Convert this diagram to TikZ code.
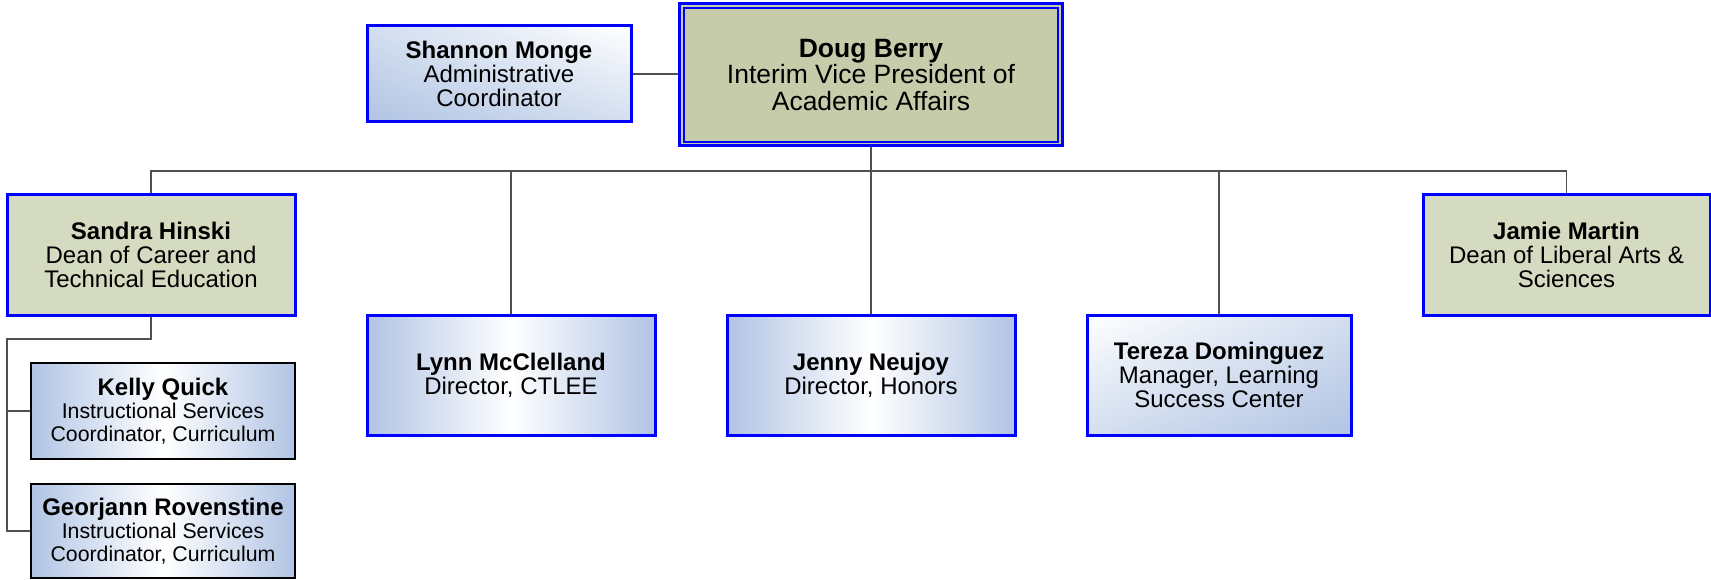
\documentclass[tikz,border=0pt]{standalone}
\usepackage{fontspec}
\setmainfont{Liberation Sans}
\usetikzlibrary{shadings}
\definecolor{gblue}{HTML}{B1C4E4}
\definecolor{gmid}{HTML}{D3DEEF}
\definecolor{dougfill}{HTML}{C6CCA9}
\definecolor{deanfill}{HTML}{D5DBC1}
\definecolor{bord}{HTML}{0000FF}
\definecolor{connc}{HTML}{505050}
\tikzset{
  base/.style={rectangle, align=center, inner sep=0pt, font=\fontsize{24}{24}\selectfont},
  bluebox/.style={base, draw=bord, line width=3pt},
  hgrad/.style={left color=gblue, right color=gblue, middle color=white},
  deanbox/.style={bluebox, fill=deanfill, minimum height=120pt},
  staffbox/.style={base, draw=black, line width=2.2pt, hgrad, minimum width=264pt, minimum height=96pt, font=\fontsize{24}{23}\selectfont},
  conn/.style={draw=connc, line width=1.3pt},
}
\begin{document}
\begin{tikzpicture}[x=1pt,y=-1pt]
\useasboundingbox (0,0) rectangle (1711,580);
% top
\node[bluebox, fill=dougfill, minimum width=383.5pt, minimum height=142.5pt,
      font=\fontsize{26.5}{26.7}\selectfont] (doug) at (871,74.75)
  {\textbf{Doug Berry}\\Interim Vice President of\\Academic Affairs};
\draw[draw=bord, line width=2pt] ([xshift=5.8pt,yshift=-5.8pt]doug.north west) rectangle ([xshift=-5.8pt,yshift=5.8pt]doug.south east);
\node[bluebox, minimum width=264pt, minimum height=96pt,
      upper right=white, lower left=gblue, upper left=gmid, lower right=gmid] (shannon) at (499,74)
  {\textbf{Shannon Monge}\\Administrative\\Coordinator};
% second row
\node[deanbox, minimum width=288pt] (sandra) at (151,255)
  {\textbf{Sandra Hinski}\\Dean of Career and\\Technical Education};
\node[deanbox, minimum width=287pt] (jamie) at (1566.5,255)
  {\textbf{Jamie Martin}\\Dean of Liberal Arts \&\\Sciences};
\node[bluebox, hgrad, minimum width=288pt, minimum height=120pt] (lynn) at (511,375)
  {\textbf{Lynn McClelland}\\Director, CTLEE};
\node[bluebox, hgrad, minimum width=288pt, minimum height=120pt] (jenny) at (871,375)
  {\textbf{Jenny Neujoy}\\Director, Honors};
\node[bluebox, minimum width=264pt, minimum height=120pt,
      upper left=white, lower right=gblue, upper right=gmid, lower left=gmid] (tereza) at (1219,375)
  {\textbf{Tereza Dominguez}\\Manager, Learning\\Success Center};
% staff
\node[staffbox] (kelly) at (163,411)
  {\textbf{Kelly Quick}\\{\fontsize{21.3}{23}\selectfont Instructional Services}\\{\fontsize{21.3}{23}\selectfont Coordinator, Curriculum}};
\node[staffbox, minimum height=94pt] (georjann) at (163,531)
  {\textbf{Georjann Rovenstine}\\{\fontsize{21.3}{23}\selectfont Instructional Services}\\{\fontsize{21.3}{23}\selectfont Coordinator, Curriculum}};
% connectors
\coordinate (bus) at (871,171);
\coordinate (rail) at (7,339);
\draw[conn] (shannon.east) -- (shannon.east -| doug.west);
\draw[conn] (doug.south) -- (bus);
\draw[conn] (sandra.north) |- (bus) -| (jamie.north);
\draw[conn] (lynn.north) -- (lynn.north |- bus);
\draw[conn] (jenny.north) -- (jenny.north |- bus);
\draw[conn] (tereza.north) -- (tereza.north |- bus);
\draw[conn] (sandra.south) |- (rail) |- (georjann.west);
\draw[conn] (rail) |- (kelly.west);
\end{tikzpicture}
\end{document}
